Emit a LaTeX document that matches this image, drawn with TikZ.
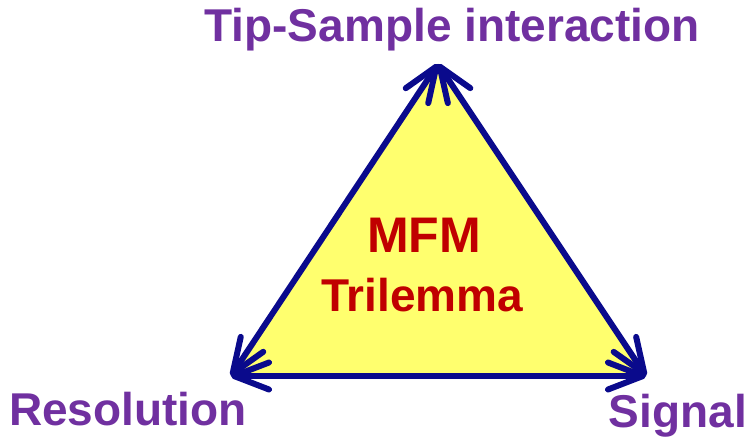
\documentclass[tikz,border=0pt]{standalone}
\usepackage{fontspec}
\setmainfont{Liberation Sans}
\usetikzlibrary{arrows.meta}
\definecolor{lblpurple}{RGB}{112,48,160}
\definecolor{titred}{RGB}{192,0,0}
\definecolor{edgeblue}{RGB}{10,10,140}
\definecolor{fillyellow}{RGB}{255,255,110}
\tikzset{
  lbl/.style={text=lblpurple, font=\fontsize{46}{52}\selectfont\bfseries, anchor=base, inner sep=0pt},
  ctr/.style={text=titred, anchor=base, inner sep=0pt},
  side/.style={draw=edgeblue, line width=6pt, line cap=round, line join=round,
    {Straight Barb[length=35pt,width=27pt,line cap=round,line join=round]}-{Straight Barb[length=35pt,width=27pt,line cap=round,line join=round]}}
}
\begin{document}
\begin{tikzpicture}[x=1pt,y=-1pt]
\useasboundingbox (0,0) rectangle (748,441);
\coordinate (T) at (438,64);
\coordinate (L) at (231,376);
\coordinate (R) at (646,376);
\fill[fillyellow] (T) -- (L) -- (R) -- cycle;
\draw[side] (T) -- (L);
\draw[side] (L) -- (R);
\draw[side] (R) -- (T);
\node[lbl] (top) at (452,42) {Tip-Sample interaction};
\node[lbl] (res) at (128,425) {Resolution};
\node[lbl] (sig) at (678,427) {Signal};
\node[ctr, font=\fontsize{50}{56}\selectfont\bfseries] (mfm) at (424,253) {MFM};
\node[ctr, font=\fontsize{46}{52}\selectfont\bfseries] (tri) at (422,311) {Trilemma};
\end{tikzpicture}
\end{document}
